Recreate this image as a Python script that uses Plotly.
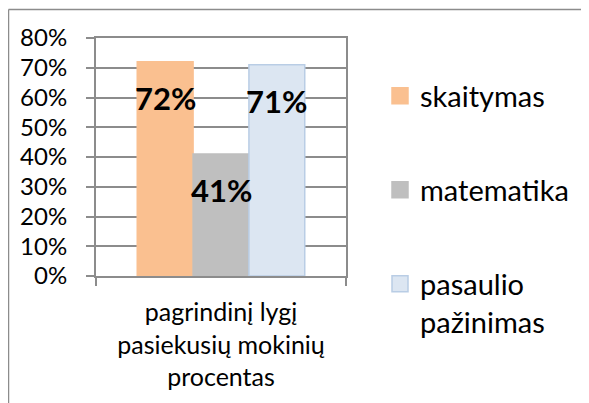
import plotly.graph_objects as go

category = ["pagrindinį lygį<br>pasiekusių mokinių<br>procentas"]
series_names = ["skaitymas", "matematika", "pasaulio<br>pažinimas"]
series_values = [[0.72], [0.41], [0.71]]
series_colors = ["#FAC090", "#BFBFBF", "#DCE6F2"]
series_lines = ["#FAC090", "#BFBFBF", "#B9CDE5"]
y_ticks = [0, 0.1, 0.2, 0.3, 0.4, 0.5, 0.6, 0.7, 0.8]

FONT = "Lato"
GRID = "#8C8C8C"
LW = 2
OFF = 8  # browser body margin
W, H = 589 - OFF, 403 - OFF
ML, MR, MT, MB = 96 - OFF, 243, 38 - OFF, 127
BARGAP = 0.33

fig = go.Figure()
for name, vals, col, lc in zip(series_names, series_values, series_colors, series_lines):
    fig.add_trace(go.Bar(x=category, y=vals, name=name, showlegend=False,
                         marker=dict(color=col, line=dict(color=lc, width=1.5))))

# legend entries (square symbols)
legend_ids = ["legend", "legend2", "legend3"]
for name, col, lc, lid in zip(series_names, series_colors, series_lines, legend_ids):
    fig.add_trace(go.Scatter(x=[None], y=[None], mode="markers", name=name, legend=lid,
                             marker=dict(symbol="square", size=16, color=col,
                                         line=dict(color=lc, width=1.5))))

# data labels
plot_w = W - ML - MR
plot_h = H - MT - MB
bar_w = plot_w * (1 - BARGAP) / len(series_values)
n = len(series_values)
for i, vals in enumerate(series_values):
    for c, v in zip(category, vals):
        fig.add_annotation(x=c, y=v, text=f"<b>{v:.0%}</b>", showarrow=False,
                           xshift=(i - (n - 1) / 2) * bar_w, yshift=-36,
                           yanchor="middle", xanchor="center",
                           font=dict(family=FONT, size=31, color="black"))

# outer chart border (left + top), page pixel coords -> paper
px_to_paper_x = lambda px: (px - OFF - ML) / plot_w
px_to_paper_y = lambda py: (H - MB - (py - OFF)) / plot_h
fig.add_shape(type="line", xref="paper", yref="paper",
              x0=px_to_paper_x(8.5), x1=px_to_paper_x(700), y0=px_to_paper_y(9.5), y1=px_to_paper_y(9.5),
              line=dict(color="#8C8C8C", width=1.5))
fig.add_shape(type="line", xref="paper", yref="paper",
              x0=px_to_paper_x(8.5), x1=px_to_paper_x(8.5), y0=px_to_paper_y(9.5), y1=px_to_paper_y(500),
              line=dict(color="#8C8C8C", width=1.5))

cx = lambda px: (px - OFF) / W
cy = lambda py: 1 - (py - OFF) / H
legend_common = dict(xref="container", yref="container", xanchor="left", yanchor="middle",
                     bgcolor="rgba(0,0,0,0)", font=dict(family=FONT, size=29, color="black"),
                     itemclick=False)
fig.update_layout(
    width=W, height=H,
    margin=dict(l=ML, r=MR, t=MT, b=MB),
    paper_bgcolor="white", plot_bgcolor="white",
    barmode="group", bargap=BARGAP, bargroupgap=0,
    font=dict(family=FONT, color="black"),
    legend=dict(x=cx(380), y=cy(96), **legend_common),
    legend2=dict(x=cx(380), y=cy(190), **legend_common),
    legend3=dict(x=cx(380), y=cy(303), valign="top", **legend_common),
    xaxis=dict(type="category", tickson="boundaries", ticks="outside", ticklen=8,
               tickcolor=GRID, tickwidth=LW, showline=True, linecolor=GRID, linewidth=LW,
               mirror=True, showgrid=False,
               tickfont=dict(family=FONT, size=25, color="black"), ticklabelstandoff=13),
    yaxis=dict(range=[0, 0.8], tickvals=y_ticks, tickformat=".0%", ticks="outside",
               ticklen=8, tickcolor=GRID, tickwidth=LW, showline=True, linecolor=GRID,
               linewidth=LW, mirror=True, showgrid=True, gridcolor=GRID, gridwidth=LW,
               zeroline=False, tickfont=dict(family=FONT, size=24, color="black"),
               ticklabelstandoff=14),
)

fig.write_html("out.html")
